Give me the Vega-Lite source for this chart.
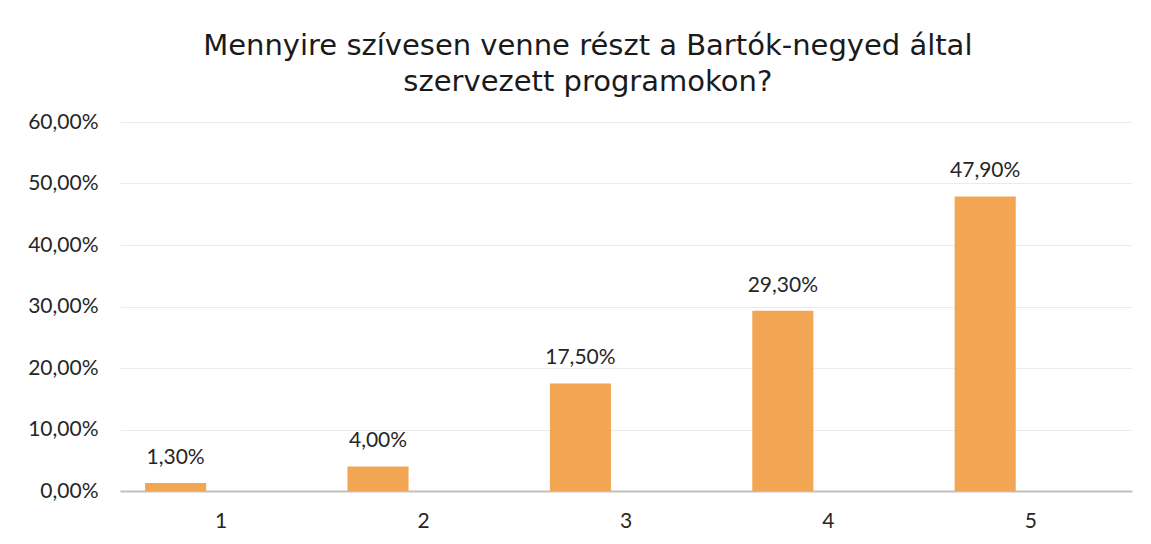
{
  "$schema": "https://vega.github.io/schema/vega-lite/v6.json",
  "width": 1012,
  "height": 369,
  "autosize": {"type": "none"},
  "padding": {"left": 120, "top": 122, "right": 19, "bottom": 53},
  "background": "white",
  "config": {
    "locale": {"number": {"decimal": ",", "thousands": " ", "grouping": [3], "currency": ["", " Ft"]}},
    "view": {"stroke": null},
    "font": "Lato"
  },
  "title": {
    "text": ["Mennyire szívesen venne részt a Bartók-negyed által", "szervezett programokon?"],
    "font": "DejaVu Sans",
    "fontSize": 29,
    "fontWeight": "normal",
    "color": "#1a1a1a",
    "lineHeight": 36,
    "anchor": "middle",
    "frame": "bounds",
    "offset": 14,
    "dx": 8
  },
  "data": {
    "values": [
      {"ertek": "1", "sorozat": "A", "arany": 0.013},
      {"ertek": "2", "sorozat": "A", "arany": 0.04},
      {"ertek": "3", "sorozat": "A", "arany": 0.175},
      {"ertek": "4", "sorozat": "A", "arany": 0.293},
      {"ertek": "5", "sorozat": "A", "arany": 0.479}
    ]
  },
  "encoding": {
    "x": {
      "field": "ertek",
      "type": "nominal",
      "scale": {"paddingInner": 0, "paddingOuter": 0},
      "axis": {
        "title": null,
        "labelAngle": 0,
        "ticks": false,
        "domainColor": "#BFBFBF",
        "domainWidth": 2,
        "labelFont": "Lato",
        "labelFontSize": 21,
        "labelColor": "#262626",
        "labelPadding": 19
      }
    },
    "xOffset": {
      "field": "sorozat",
      "type": "nominal",
      "scale": {"domain": ["A", "B"], "paddingInner": 0.33, "paddingOuter": 0.275}
    },
    "y": {
      "field": "arany",
      "type": "quantitative",
      "scale": {"domain": [0, 0.6]},
      "axis": {
        "title": null,
        "values": [0, 0.1, 0.2, 0.3, 0.4, 0.5, 0.6],
        "format": ".2%",
        "ticks": false,
        "domain": false,
        "gridColor": "#EBEBEB",
        "gridWidth": 1,
        "labelFont": "Lato",
        "labelFontSize": 21,
        "labelColor": "#262626",
        "labelPadding": 22
      }
    }
  },
  "layer": [
    {"mark": {"type": "bar", "color": "#F2A654"}},
    {
      "mark": {"type": "text", "baseline": "middle", "dy": -25, "fontSize": 21, "font": "Lato", "color": "#262626"},
      "encoding": {"text": {"field": "arany", "type": "quantitative", "format": ".2%"}}
    }
  ]
}
